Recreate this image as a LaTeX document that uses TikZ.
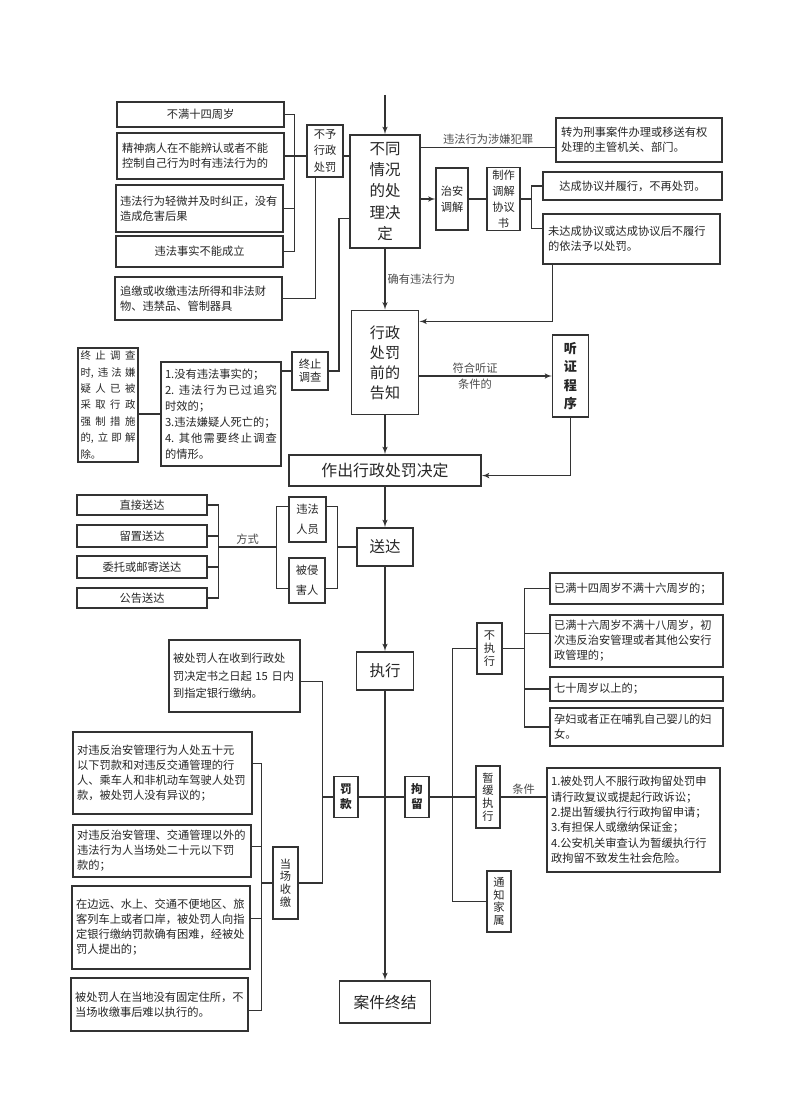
\documentclass[tikz,border=0pt]{standalone}
\usepackage{fontspec}
\setmainfont{Noto Sans CJK SC}
\usepackage{tikz}
\usetikzlibrary{shapes,arrows}
\newdimen\pxu \pxu=0.025cm
\newcommand\sprd{\spaceskip=0pt plus 1fil\relax}
\tikzstyle{line} = [draw=black!80, line width=0.8pt]
\tikzstyle{box} = [draw=black!80, line width=0.8pt, text=black!85, inner sep=1.5pt, align=left, font=\fontsize{8}{10.7}\selectfont]
\tikzstyle{bigbox} = [box, line width=1.4pt, align=center, font=\fontsize{11}{15}\selectfont]
\tikzstyle{colbox} = [box, align=center, font=\fontsize{8}{9}\selectfont]
\tikzstyle{pairbox} = [box, align=center, font=\fontsize{8}{11.5}\selectfont]
\tikzstyle{lbl} = [text=black!70, inner sep=1.5pt, font=\fontsize{8}{10}\selectfont]
\tikzset{sz/.style 2 args={minimum width=#1\pxu, minimum height=#2\pxu},
  tw/.style={text width=#1\pxu}}

\begin{document}
\begin{tikzpicture}[x=0.025cm, y=-0.025cm, >=latex']
  \path[use as bounding box, fill=white] (0,0) rectangle (800,1109);

  % cases without punishment
  \node[box, sz={167}{25}, tw={157}, align=center] (B1) at (200.5,114.5) {不满十四周岁};
  \node[box, sz={167}{46}, tw={157}] (B2) at (200.5,156) {精神病人在不能辨认或者不能\\控制自己行为时有违法行为的};
  \node[box, sz={167}{47}, tw={159}] (B3) at (199.5,208.5) {违法行为轻微并及时纠正，没有\\造成危害后果};
  \node[box, sz={167}{31}, tw={157}, align=center] (B4) at (199.5,251.5) {违法事实不能成立};
  \node[box, sz={167}{43}, tw={157}] (B5) at (198.5,298.5) {追缴或收缴违法所得和非法财\\物、违禁品、管制器具};
  \node[pairbox, sz={36}{52}] (NY) at (325,151) {不予\\行政\\处罚};

  % main decision
  \coordinate (entry) at (385,95);
  \node[bigbox, sz={70}{113}] (BT) at (385,191.5) {不同\\情况\\的处\\理决\\定};
  \node[box, sz={166}{44}, tw={156}] (XZ) at (639,140) {转为刑事案件办理或移送有权\\处理的主管机关、部门。};
  \node[pairbox, sz={32}{62}] (ZA) at (452,199) {治安\\调解};
  \node[pairbox, sz={33}{62}] (ZZ) at (503.5,199) {制作\\调解\\协议\\书};
  \node[box, sz={179}{28}, tw={169}, align=center] (DC) at (632.5,186) {达成协议并履行，不再处罚。};
  \node[box, sz={177}{50}, tw={167}] (WD) at (631.5,239) {未达成协议或达成协议后不履行\\的依法予以处罚。};

  % notice and hearing
  \node[bigbox, sz={67}{104}, font=\fontsize{10.7}{14.2}\selectfont] (GZ) at (385,362.5) {行政\\处罚\\前的\\告知};
  \node[box, sz={36}{82}, align=center, font=\fontsize{9.3}{13}\selectfont\bfseries] (TZ) at (570.5,376) {听\\证\\程\\序};
  \node[pairbox, sz={36}{38}, font=\fontsize{8}{9.5}\selectfont] (ZZC) at (310,371) {终止\\调查};
  \node[box, sz={120}{104}, tw={112}, align=justify, font=\fontsize{8}{11.4}\selectfont] (ZS) at (221,414)
    {\sprd 1.没有违法事实的；\\2. 违 法 行 为 已 过 追 究\linebreak 时效的；\\3.违法嫌疑人死亡的；\\4. 其 他 需 要 终 止 调 查\linebreak 的情形。};
  \node[box, sz={60}{114}, tw={55}, align=justify, font=\fontsize{7.4}{11.7}\selectfont] (ZT) at (108,405)
    {\sprd 终 止 调 查\linebreak 时, 违 法 嫌\linebreak 疑 人 已 被\linebreak 采 取 行 政\linebreak 强 制 措 施\linebreak 的, 立 即 解\linebreak 除。};
  \node[bigbox, sz={192}{31}, font=\fontsize{11.3}{14}\selectfont] (ZC) at (385,470.5) {作出行政处罚决定};

  % delivery
  \node[box, sz={130}{20}, align=center] (SD1) at (142,505) {直接送达};
  \node[box, sz={130}{22}, align=center] (SD2) at (142,536) {留置送达};
  \node[box, sz={130}{22}, align=center] (SD3) at (142,567) {委托或邮寄送达};
  \node[box, sz={130}{20}, align=center] (SD4) at (142,598) {公告送达};
  \node[pairbox, sz={37}{45}, font=\fontsize{8}{14}\selectfont] (WF) at (307.5,519.5) {违法\\人员};
  \node[pairbox, sz={36}{45}, font=\fontsize{8}{14}\selectfont] (BQ) at (307,580.5) {被侵\\害人};
  \node[bigbox, sz={56}{38}] (SDa) at (385,547) {送达};

  % execution
  \node[bigbox, sz={57}{38}] (ZX) at (385,671) {执行};
  \node[box, sz={131}{72}, tw={123}, font=\fontsize{8}{12.4}\selectfont] (JN) at (234.5,676) {被处罚人在收到行政处\\罚决定书之日起~15~日内\\到指定银行缴纳。};
  \node[box, sz={179}{82}, tw={171}] (F1) at (162.5,773) {对违反治安管理行为人处五十元\\以下罚款和对违反交通管理的行\\人、乘车人和非机动车驾驶人处罚\\款，被处罚人没有异议的；};
  \node[box, sz={178}{52}, tw={170}] (F2) at (162,851) {对违反治安管理、交通管理以外的\\违法行为人当场处二十元以下罚\\款的；};
  \node[box, sz={178}{83}, tw={170}] (F3) at (161,927.5) {在边远、水上、交通不便地区、旅\\客列车上或者口岸，被处罚人向指\\定银行缴纳罚款确有困难，经被处\\罚人提出的；};
  \node[box, sz={177}{53}, tw={169}] (F4) at (159.5,1004.5) {被处罚人在当地没有固定住所，不\\当场收缴事后难以执行的。};
  \node[colbox, sz={25}{72}] (DS) at (285.5,883) {当\\场\\收\\缴};
  \node[pairbox, sz={24}{41}, font=\fontsize{8.3}{10.7}\selectfont\bfseries] (FK) at (346,797) {罚\\款};
  \node[pairbox, sz={24}{41}, font=\fontsize{8.3}{10.7}\selectfont\bfseries] (JL) at (417,797) {拘\\留};
  \node[colbox, sz={25}{51}] (BZ) at (489.5,648.5) {不\\执\\行};
  \node[box, sz={173}{31}, tw={165}] (N1) at (636.5,588.5) {已满十四周岁不满十六周岁的；};
  \node[box, sz={173}{52}, tw={165}] (N2) at (636.5,641) {已满十六周岁不满十八周岁，初\\次违反治安管理或者其他公安行\\政管理的；};
  \node[box, sz={173}{24}, tw={165}] (N3) at (636.5,689) {七十周岁以上的；};
  \node[box, sz={173}{38}, tw={165}] (N4) at (636.5,727) {孕妇或者正在哺乳自己婴儿的妇\\女。};
  \node[colbox, sz={24}{62}] (ZH) at (488,797) {暂\\缓\\执\\行};
  \node[box, sz={173}{104}, tw={165}, font=\fontsize{8}{10.9}\selectfont] (TK) at (633.5,820) {1.被处罚人不服行政拘留处罚申\\请行政复议或提起行政诉讼；\\2.提出暂缓执行行政拘留申请；\\3.有担保人或缴纳保证金；\\4.公安机关审查认为暂缓执行行\\政拘留不致发生社会危险。};
  \node[colbox, sz={24}{61}] (TJ) at (499,901.5) {通\\知\\家\\属};
  \node[bigbox, sz={91}{42}, font=\fontsize{11.2}{14}\selectfont] (JA) at (385,1002) {案件终结};

  % main flow
  \draw[line, ->] (entry) -- (BT);
  \draw[line, ->] (BT) -- node[lbl, right] {确有违法行为} (GZ);
  \draw[line, ->] (GZ) -- (ZC);
  \draw[line, ->] (ZC) -- (SDa);
  \draw[line, ->] (SDa) -- (ZX);
  \draw[line, ->] (ZX) -- (JA);

  % no punishment
  \draw[line] (B2.east) -- (B2.east -| NY.west);
  \draw[line] (B2.east -| NY.east) -- (B2.east -| BT.west);
  \draw[line] (B1.east) -- ++(10,0) coordinate (bk) |- (B4.east);
  \draw[line] (B3.east) -- (B3.east -| bk);
  \draw[line] (B5.east) -| (NY.250);

  % criminal case and mediation
  \draw[line] (XZ.185) -- node[lbl, above] {违法行为涉嫌犯罪} (XZ.185 -| BT.east);
  \draw[line, ->] (ZA.west -| BT.east) -- (ZA.west);
  \draw[line] (ZA.east) -- (ZZ.west);
  \draw[line] (DC.west) -- ++(-11,0) coordinate (zk) |- (WD.173);
  \draw[line] (ZZ.east) -- (ZZ.east -| zk);
  \draw[line, ->] (WD.198) |- (GZ.50);

  % stop investigation
  \draw[line] (BT.217) -- ++(-10,0) |- (ZZC.east);
  \draw[line] (ZZC.west) -- (ZZC.west -| ZS.east);
  \draw[line] (ZS.west) -- (ZS.west -| ZT.east);

  % hearing
  \draw[line, ->] (GZ.east |- TZ.west) -- node[lbl, above, pos=0.42] {符合听证} node[lbl, below, pos=0.42] {条件的} (TZ.west);
  \draw[line, ->] (TZ.south) |- (ZC.-3);

  % delivery ways
  \draw[line] (SD1.east) -- ++(11,0) coordinate (sdk) |- (SD4.east);
  \draw[line] (SD2.east) -- (SD2.east -| sdk);
  \draw[line] (SD3.east) -- (SD3.east -| sdk);
  \draw[line] (WF.146) -- ++(-12,0) coordinate (wfk) |- (BQ.203);
  \draw[line] (WF.34) -- ++(11,0) coordinate (wfr) |- (BQ.-23);
  \draw[line] (sdk |- SDa.west) -- node[lbl, above] {方式} (wfk |- SDa.west);
  \draw[line] (wfr |- SDa.west) -- (SDa.west);

  % fine
  \draw[line] (JN.-5) -- ++(22,0) coordinate (fk) |- (DS.east);
  \draw[line] (FK.west) -- (FK.west -| fk);
  \draw[line] (F1.6) -- ++(9,0) coordinate (dk) |- (F4.-4);
  \draw[line] (F2.3) -- (F2.3 -| dk);
  \draw[line] (F3.6) -- (F3.6 -| dk);
  \draw[line] (DS.west) -- (DS.west -| dk);

  % detention
  \draw[line] (FK.east) -- (JL.west);
  \draw[line] (JL.east) -- (ZH.west);
  \draw[line] (BZ.west) -- ++(-24,0) |- (TJ.west);
  \draw[line] (N1.west) -- ++(-25,0) coordinate (nk) |- (N4.west);
  \draw[line] (N2.175) -- (N2.175 -| nk);
  \draw[line] (N3.west) -- (N3.west -| nk);
  \draw[line] (BZ.east) -- (BZ.east -| nk);
  \draw[line] (ZH.east) -- node[lbl, above] {条件} (ZH.east -| TK.west);
\end{tikzpicture}
\end{document}
